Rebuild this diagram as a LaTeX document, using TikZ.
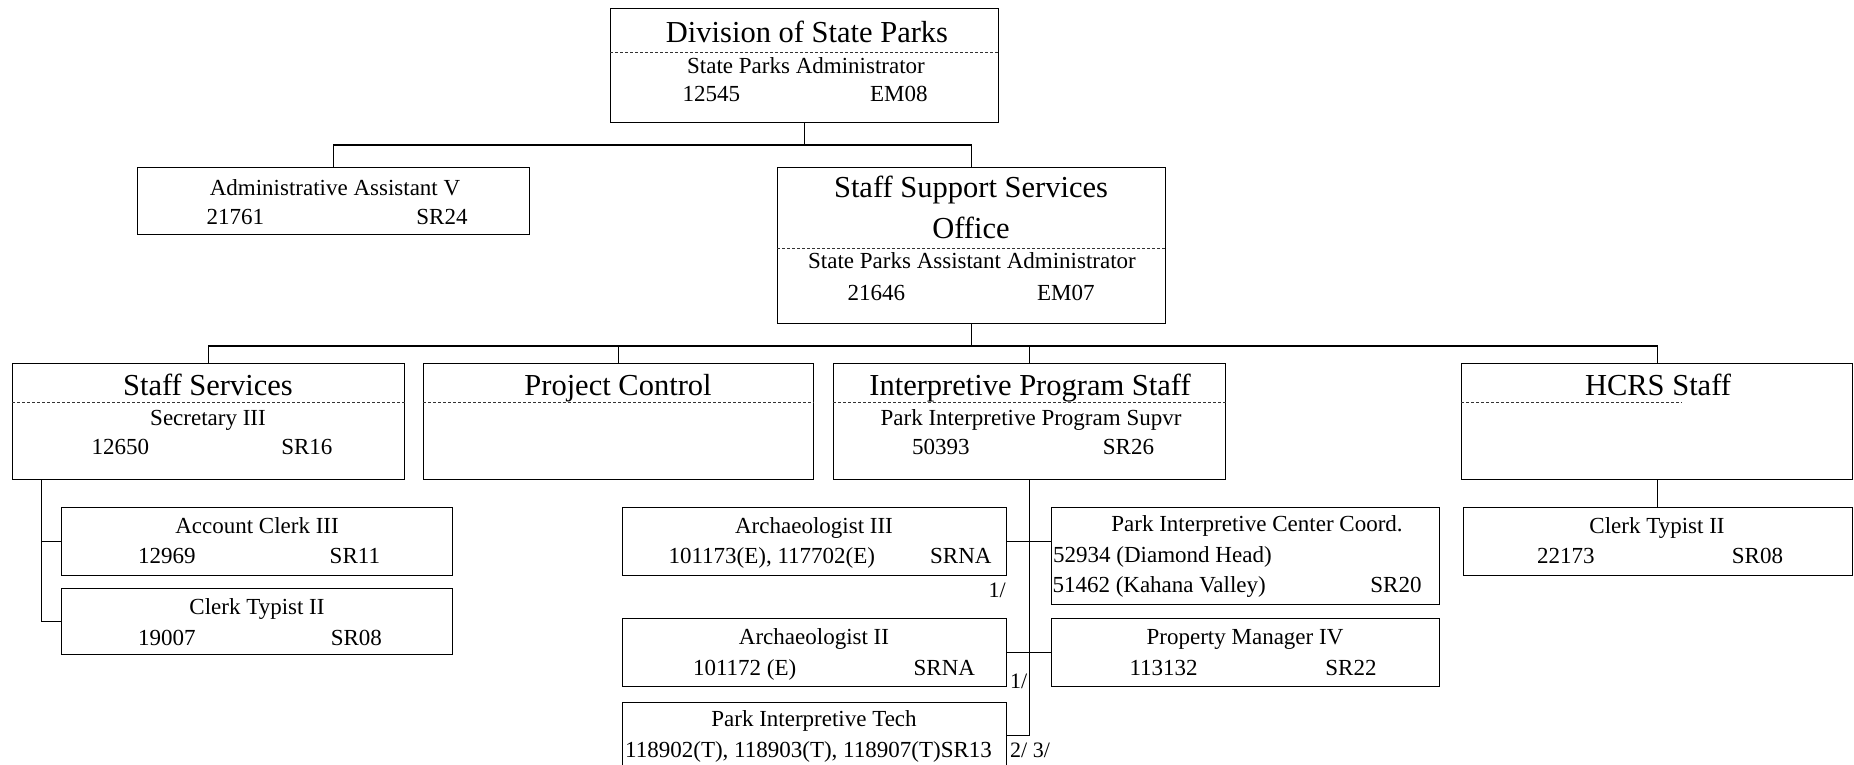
\documentclass[tikz,border=0pt]{standalone}
\usepackage{fontspec}
\setmainfont{Liberation Serif}
\usetikzlibrary{calc}
\tikzset{
  unit_box/.style={rectangle,draw=black,line width=1.3pt,
    inner sep=0pt,anchor=north west},
  unit_ttl/.style={font=\fontsize{30.5}{36}\selectfont,
    anchor=base,inner sep=0pt},
  unit_txt/.style={font=\fontsize{23}{28}\selectfont,
    anchor=base,inner sep=0pt},
  sep_line/.style={line width=0.7pt,dash pattern=on 3pt off 2pt,draw=black!80},
  link/.style={draw=black,line width=1.3pt},
  fnote/.style={font=\fontsize{22}{26}\selectfont,inner sep=0pt},
}

\begin{document}
\begin{tikzpicture}[x=1pt,y=-1pt]
  \useasboundingbox (0,0) rectangle (1854,765);

  % boxes (top left corner, size in px of the reference)
  \node (dsp)  [unit_box,minimum width=388pt,minimum height=114pt] at (610,8)   {};
  \node (aav)  [unit_box,minimum width=392pt,minimum height=67pt]  at (137,167) {};
  \node (sss)  [unit_box,minimum width=388pt,minimum height=156pt] at (777,167) {};
  \node (ss)   [unit_box,minimum width=392pt,minimum height=116pt] at (12,363)  {};
  \node (pc)   [unit_box,minimum width=390pt,minimum height=116pt] at (423,363) {};
  \node (ips)  [unit_box,minimum width=392pt,minimum height=116pt] at (833,363) {};
  \node (hcrs) [unit_box,minimum width=391pt,minimum height=116pt] at (1461,363) {};
  \node (ac3)  [unit_box,minimum width=391pt,minimum height=68pt]  at (61,507)  {};
  \node (ct2)  [unit_box,minimum width=391pt,minimum height=66pt]  at (61,588)  {};
  \node (ar3)  [unit_box,minimum width=384pt,minimum height=68pt]  at (622,507) {};
  \node (ar2)  [unit_box,minimum width=384pt,minimum height=68pt]  at (622,618) {};
  \node (pit)  [unit_box,minimum width=384pt,minimum height=66pt]  at (622,702) {};
  \node (pic)  [unit_box,minimum width=388pt,minimum height=97pt]  at (1051,507) {};
  \node (pm4)  [unit_box,minimum width=388pt,minimum height=68pt]  at (1051,618) {};
  \node (ct2h) [unit_box,minimum width=389pt,minimum height=68pt]  at (1463,507) {};

  % separators under the unit names
  \draw[sep_line] ([yshift=-44pt]dsp.north west) -- ([yshift=-44pt]dsp.north east);
  \draw[sep_line] ([yshift=-81pt]sss.north west) -- ([yshift=-81pt]sss.north east);
  \draw[sep_line] ([yshift=-39pt]ss.north west)  -- ([yshift=-39pt]ss.north east);
  \draw[sep_line] ([yshift=-39pt]pc.north west)  -- ([yshift=-39pt]pc.north east);
  \draw[sep_line] ([yshift=-39pt]ips.north west) -- ([yshift=-39pt]ips.north east);
  \draw[sep_line] ([yshift=-39pt]hcrs.north west) -- ([xshift=-172pt,yshift=-39pt]hcrs.north east);

  % texts
  \node (dsp_t) [unit_ttl] at (807,43)  {Division of State Parks};
  \node (dsp_s) [unit_txt] at (806,74)  {State Parks Administrator};
  \node (dsp_n) [unit_txt] at (805,102) {\makebox[245pt]{12545\hfill EM08}};

  \node (aav_s) [unit_txt] at (335,195) {Administrative Assistant V};
  \node (aav_n) [unit_txt] at (337,224) {\makebox[261pt]{21761\hfill SR24}};

  \node (sss_t) [unit_ttl] at (971,197) {Staff Support Services};
  \node (sss_o) [unit_ttl] at (971,238) {Office};
  \node (sss_s) [unit_txt] at (972,268) {State Parks Assistant Administrator};
  \node (sss_n) [unit_txt] at (971,300) {\makebox[247pt]{21646\hfill EM07}};

  \node (ss_t) [unit_ttl] at (208,395) {Staff Services};
  \node (ss_s) [unit_txt] at (208,425) {Secretary III};
  \node (ss_n) [unit_txt] at (212,454) {\makebox[241pt]{12650\hfill SR16}};

  \node (pc_t) [unit_ttl] at (618,395) {Project Control};

  \node (ips_t) [unit_ttl] at (1030,395) {Interpretive Program Staff};
  \node (ips_s) [unit_txt] at (1031,425) {Park Interpretive Program Supvr};
  \node (ips_n) [unit_txt] at (1033,454) {\makebox[242pt]{50393\hfill SR26}};

  \node (hcrs_t) [unit_ttl] at (1658,395) {HCRS Staff};

  \node (ac3_s) [unit_txt] at (257,533) {Account Clerk III};
  \node (ac3_n) [unit_txt] at (259,563) {\makebox[242pt]{12969\hfill SR11}};
  \node (ct2_s) [unit_txt] at (257,614) {Clerk Typist II};
  \node (ct2_n) [unit_txt] at (260,645) {\makebox[244pt]{19007\hfill SR08}};

  \node (ar3_s) [unit_txt] at (814,533) {Archaeologist III};
  \node (ar3_n) [unit_txt] at (830,563) {\makebox[323pt]{101173(E), 117702(E)\hfill SRNA}};
  \node (ar2_s) [unit_txt] at (814,644) {Archaeologist II};
  \node (ar2_n) [unit_txt] at (834,675) {\makebox[282pt]{101172 (E)\hfill SRNA}};
  \node (pit_s) [unit_txt] at (814,726) {Park Interpretive Tech};
  \node (pit_n) [unit_txt,anchor=base west] at (625,757)
    {118902(T), 118903(T), 118907(T)SR13};

  \node (pic_s)  [unit_txt] at (1257,531) {Park Interpretive Center Coord.};
  \node (pic_n1) [unit_txt,anchor=base west] at (1053,562) {52934 (Diamond Head)};
  \node (pic_n2) [unit_txt] at (1237,592) {\makebox[369pt]{51462 (Kahana Valley)\hfill SR20}};
  \node (pm4_s)  [unit_txt] at (1245,644) {Property Manager IV};
  \node (pm4_n)  [unit_txt] at (1253,675) {\makebox[247pt]{113132\hfill SR22}};

  \node (ct2h_s) [unit_txt] at (1657,533) {Clerk Typist II};
  \node (ct2h_n) [unit_txt] at (1660,563) {\makebox[246pt]{22173\hfill SR08}};

  \node (fn_a) [fnote,anchor=base east] at (1006,597) {1/};
  \node (fn_b) [fnote,anchor=base west] at (1010,688) {1/};
  \node (fn_c) [fnote,anchor=base west] at (1010,757) {2/ 3/};

  % connectors
  \coordinate (bus_a) at (0,145);
  \coordinate (bus_b) at (0,346);
  \draw[link] (dsp.south) -- (dsp.south |- bus_a);
  \draw[link] (aav.north) |- (sss.north |- bus_a) -- (sss.north);
  \draw[link] (sss.south) -- (sss.south |- bus_b);
  \draw[link] (ss.north) |- (hcrs.north |- bus_b) -- (hcrs.north);
  \draw[link] (pc.north) -- (pc.north |- bus_b);
  \draw[link] (ips.north) -- (ips.north |- bus_b);
  \draw[link] ([xshift=-167pt]ss.south) |- (ac3.west);
  \draw[link] ([xshift=-167pt]ss.south) |- (ct2.west);
  \draw[link] (ips.south) |- (pit.east);
  \draw[link] (ar3.east) -- (ar3.east -| pic.west);
  \draw[link] (ar2.east) -- (ar2.east -| pm4.west);
  \draw[link] (hcrs.south) -- (hcrs.south |- ct2h.north);
\end{tikzpicture}
\end{document}
